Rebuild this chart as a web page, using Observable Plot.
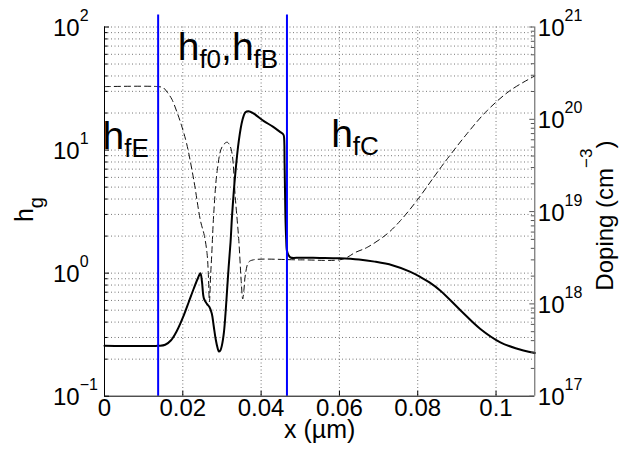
<!DOCTYPE html>
<html><head><meta charset="utf-8">
<script src="https://cdn.jsdelivr.net/npm/d3@7"></script>
<script src="https://cdn.jsdelivr.net/npm/@observablehq/plot@0.6"></script>
<style>html,body{margin:0;padding:0;background:#fff;} #chart{width:622px;height:453px;overflow:hidden;}</style>
</head><body><div id="chart"></div>
<script>
// ---------- data ----------
const xTicks = [0, 0.02, 0.04, 0.06, 0.08, 0.1];
const xTickLabels = ["0", "0.02", "0.04", "0.06", "0.08", "0.1"];
const leftTicks = [0.1, 1, 10, 100];
const leftTickExp = ["−1", "0", "1", "2"];
const rightTicks = [1e17, 1e18, 1e19, 1e20, 1e21];
const rightTickExp = ["17", "18", "19", "20", "21"];
const junctionX = [0.0137, 0.0466];
const annText = ["h_{fE}", "h_{f0},h_{fB}", "h_{fC}"];
const annX = [0, 0.0192, 0.0584];
const annY = [12.9, 67.5, 13.3];
const xLabel = "x (µm)";
const yLabel = "h_{g}";
const y2Label = "Doping (cm^{−3})";

// h_g (solid)
const hgX = [0, 0.0137, 0.0155, 0.0170, 0.0185, 0.0202, 0.0215, 0.0228, 0.0238, 0.0245,
  0.0249, 0.0254, 0.0262, 0.0268, 0.0274, 0.0279, 0.0284, 0.0289, 0.0292, 0.0296,
  0.0300, 0.0305, 0.0309, 0.0313, 0.0317, 0.0322, 0.0326, 0.0334, 0.0343, 0.0352,
  0.0360, 0.0368, 0.0380, 0.0407, 0.0430, 0.0449, 0.0456, 0.0458, 0.0460, 0.0462,
  0.0464, 0.0466, 0.0470, 0.0475, 0.0500, 0.0550, 0.0600, 0.0650, 0.0690, 0.0735,
  0.0780, 0.0807, 0.0830, 0.0858, 0.0909, 0.0960, 0.1011, 0.1050, 0.1099];
const hgY = [0.257, 0.257, 0.262, 0.285, 0.34, 0.45, 0.58, 0.75, 0.90, 1.0,
  0.85, 0.62, 0.56, 0.53, 0.47, 0.37, 0.29, 0.245, 0.231, 0.236,
  0.26, 0.33, 0.466, 0.72, 1.11, 1.8, 3.0, 6.4, 11.9, 17.4,
  20.3, 20.7, 19.9, 17.2, 15.5, 14.0, 13.5, 13.1, 7.7, 3.0,
  1.9, 1.52, 1.40, 1.34, 1.335, 1.33, 1.32, 1.29, 1.24, 1.16,
  1.03, 0.93, 0.84, 0.72, 0.50, 0.352, 0.274, 0.245, 0.224];

// Doping (dashed), cm^-3
const dopX = [0, 0.0137, 0.0150, 0.0160, 0.0172, 0.0185, 0.0197, 0.0210, 0.0228, 0.0245,
  0.0255, 0.0262, 0.0265, 0.0268, 0.0271, 0.0274, 0.0279, 0.0288, 0.0300, 0.0313,
  0.0320, 0.0326, 0.0334, 0.0343, 0.0349, 0.0353, 0.0356, 0.0360, 0.0368, 0.0380,
  0.0500, 0.0600, 0.0620, 0.0640, 0.0671, 0.0722, 0.0756, 0.0798, 0.0841, 0.0866,
  0.0926, 0.0977, 0.1036, 0.1099];
const dopN = [2.26e20, 2.26e20, 2.2e20, 1.97e20, 1.65e20, 1.2e20, 8.5e19, 5.4e19, 2.2e19, 8.0e18,
  5.5e18, 3.5e18, 2.2e18, 1.05e18, 2.0e18, 3.5e18, 9.5e18, 2.8e19, 5.0e19, 5.65e19,
  5.2e19, 4.2e19, 1.43e19, 4.9e18, 1.8e18, 1.13e18, 1.4e18, 2.1e18, 2.83e18, 3.0e18,
  3.0e18, 3.0e18, 3.2e18, 3.6e18, 4.1e18, 5.75e18, 8.0e18, 1.32e19, 2.36e19, 3.3e19,
  7.0e19, 1.24e20, 2.05e20, 2.95e20];

// ---------- layout ----------
const W = 622, H = 453, mL = 104, mR = 87.7, mT = 26.5, mB = 57.3;
const fw = W - mL - mR, fh = H - mT - mB;
const xDomain = [0, 0.1099];
const yDomain = [0.1, 100];
const dopDomain = [1e17, 1e21];
const L = Math.log10;
const toLeft = n => 10 ** (L(yDomain[0]) + (L(n) - L(dopDomain[0])) * (L(yDomain[1] / yDomain[0]) / L(dopDomain[1] / dopDomain[0])));

const hg = hgX.map((x, i) => ({x, y: hgY[i]}));
const dop = dopX.map((x, i) => ({x, n: dopN[i]}));
const minorOf = (lo, hi) => { const a = []; for (let k = lo; k < hi; k++) for (let m = 2; m <= 9; m++) a.push(m * 10 ** k); return a; };
const leftMinor = minorOf(-1, 2);
const rightMinor = minorOf(17, 21);
const xTickData = xTicks.map((v, i) => ({v, label: xTickLabels[i]}));
const leftTickData = leftTicks.map((v, i) => ({v, label: `10^{${leftTickExp[i]}}`}));
const rightTickData = rightTicks.map((v, i) => ({v, label: `10^{${rightTickExp[i]}}`}));
const annData = annText.map((t, i) => ({t, x: annX[i], y: annY[i]}));

const gridStyle = {stroke: "#777", strokeWidth: 1, strokeDasharray: "1,2.5"};

const chart = Plot.plot({
  width: W, height: H,
  marginLeft: mL, marginRight: mR, marginTop: mT, marginBottom: mB,
  x: {domain: xDomain, axis: null},
  y: {type: "log", domain: yDomain, axis: null},
  style: {fontFamily: "'Liberation Sans', Arial, Helvetica, sans-serif", background: "white", color: "black"},
  marks: [
    Plot.ruleX(xTicks.filter(v => v > xDomain[0]), {x: d => d, ...gridStyle}),
    Plot.ruleY([...leftMinor, ...leftTicks.slice(1)], {y: d => d, ...gridStyle}),
    Plot.line(dop, {x: "x", y: d => toLeft(d.n), stroke: "#111", strokeWidth: 1, strokeDasharray: "6,4", curve: "catmull-rom"}),
    Plot.line(hg, {x: "x", y: "y", stroke: "black", strokeWidth: 2, curve: "catmull-rom"}),
    Plot.ruleX(junctionX, {x: d => d, stroke: "#0000ff", strokeWidth: 2, insetTop: -12}),
    Plot.ruleX([xDomain[0]], {x: d => d, stroke: "black", strokeWidth: 1}),
    Plot.ruleY([yDomain[0]], {y: d => d, stroke: "black", strokeWidth: 1}),
    Plot.ruleX([xDomain[1]], {x: d => d, stroke: "#555", strokeWidth: 1}),
    Plot.ruleX(xTicks, {x: d => d, stroke: "black", insetTop: fh - 5}),
    Plot.ruleY(leftMinor, {y: d => d, stroke: "black", insetRight: fw - 3.5}),
    Plot.ruleY(leftTicks, {y: d => d, stroke: "black", insetRight: fw - 5}),
    Plot.ruleY(rightMinor, {y: d => toLeft(d), stroke: "#555", insetLeft: fw - 3.5}),
    Plot.ruleY(rightTicks, {y: d => toLeft(d), stroke: "#555", insetLeft: fw - 5}),
    Plot.text(xTickData, {x: "v", text: "label", frameAnchor: "bottom", dy: 20, fontSize: 24, fill: "black"}),
    Plot.text(leftTickData, {y: "v", text: "label", frameAnchor: "left", textAnchor: "start", dx: -51.5, dy: 1.5, fontSize: 24, fill: "black"}),
    Plot.text(rightTickData, {y: d => toLeft(d.v), text: "label", frameAnchor: "right", textAnchor: "start", dx: 3, dy: 1.5, fontSize: 24, fill: "black"}),
    Plot.text([xLabel], {text: d => d, frameAnchor: "bottom", textAnchor: "middle", dy: 41.3, fontSize: 25, fill: "black"}),
    Plot.text([yLabel], {text: d => d, frameAnchor: "left", textAnchor: "middle", rotate: -90, dx: -80, dy: -2, fontSize: 25, fill: "black"}),
    Plot.text([y2Label], {text: d => d, frameAnchor: "right", textAnchor: "middle", rotate: -90, dx: 71, dy: 4, fontSize: 24, fill: "black"}),
    Plot.text(annData, {x: "x", y: "y", text: "t", textAnchor: "start", dx: -2, fontSize: 39, fill: "black"})
  ]
});

// turn "^{...}" / "_{...}" markup into real superscript / subscript tspans
function richify(svg) {
  svg.querySelectorAll("text").forEach(t => {
    const raw = t.textContent;
    if (!/[_^]\{/.test(raw)) return;
    const o = raw.startsWith("10^{") ? {small: 16, shift: 15}
      : raw.startsWith("Doping") ? {small: 17, shift: 21}
      : raw === "h_{g}" ? {small: 20, shift: 10}
      : {small: 26, shift: 8};
    const segs = [];
    const re = /([_^])\{([^}]*)\}|([^_^]+)/g;
    let m;
    while ((m = re.exec(raw))) {
      if (m[3] !== undefined) segs.push({k: "n", s: m[3]});
      else segs.push({k: m[1] === "^" ? "sup" : "sub", s: m[2]});
    }
    while (t.firstChild) t.removeChild(t.firstChild);
    let cur = 0;
    for (const sg of segs) {
      const ts = document.createElementNS("http://www.w3.org/2000/svg", "tspan");
      const off = sg.k === "sup" ? -o.shift : sg.k === "sub" ? o.shift : 0;
      if (off !== cur) ts.setAttribute("dy", off - cur);
      cur = off;
      if (sg.k !== "n") ts.setAttribute("font-size", o.small);
      ts.textContent = sg.s;
      t.appendChild(ts);
    }
  });
}
richify(chart);
document.getElementById("chart").appendChild(chart);
</script>
</body></html>
